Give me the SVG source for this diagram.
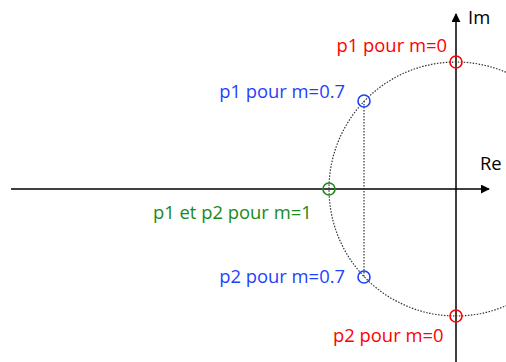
<svg xmlns="http://www.w3.org/2000/svg" width="506" height="362" viewBox="0 0 506 362">
<style>
text{font-family:"Open Sans","Liberation Sans",sans-serif;font-size:18.4px}
.ax{stroke:#000;stroke-width:1.5;fill:none}
.dot{stroke:#333;stroke-width:1.2;stroke-dasharray:1.5 1.5;fill:none}
.pole{fill:none;stroke-width:1.6}
</style>
<defs>
<marker id="arr" viewBox="0 0 10 10" refX="9" refY="5" markerWidth="9" markerHeight="9" markerUnits="userSpaceOnUse" orient="auto"><path d="M0,0 L10,5 L0,10 z" fill="#000"/></marker>
</defs>
<g id="connectors">
<line class="ax" x1="11" y1="189" x2="489" y2="189" marker-end="url(#arr)"/>
<line class="ax" x1="456" y1="362" x2="456" y2="14" marker-end="url(#arr)"/>
<circle class="dot" cx="456" cy="189" r="127"/>
<line class="dot" x1="364" y1="101" x2="364" y2="277"/>
</g>
<g id="im"><text x="468" y="24">Im</text></g>
<g id="re"><text x="480" y="170">Re</text></g>
<g id="p1m0"><circle class="pole" cx="456" cy="62" r="6" stroke="#f00"/><text x="447" y="52" text-anchor="end" fill="#f00">p1 pour m=0</text></g>
<g id="p1m07"><circle class="pole" cx="364" cy="101" r="6" stroke="#1f3fff"/><text x="345" y="98" text-anchor="end" fill="#1f3fff">p1 pour m=0.7</text></g>
<g id="m1"><circle class="pole" cx="329" cy="189" r="6" stroke="#1a8a1a"/><text x="153" y="219" fill="#1a8a1a">p1 et p2 pour m=1</text></g>
<g id="p2m07"><circle class="pole" cx="364" cy="277" r="6" stroke="#1f3fff"/><text x="345" y="283" text-anchor="end" fill="#1f3fff">p2 pour m=0.7</text></g>
<g id="p2m0"><circle class="pole" cx="456" cy="316" r="6" stroke="#f00"/><text x="333" y="342" fill="#f00">p2 pour m=0</text></g>
</svg>
